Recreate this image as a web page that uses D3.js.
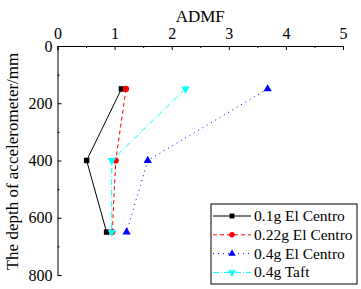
<!DOCTYPE html>
<html><head><meta charset="utf-8">
<script src="https://cdn.jsdelivr.net/npm/d3@7"></script>
<style>body{margin:0;background:#fff}svg text{font-family:"Liberation Serif","Times New Roman",serif !important}</style>
</head><body><svg id="c" width="361" height="289" font-family="Liberation Serif"></svg>
<script>
const depths = [150, 400, 650];
const seriesNames = ["0.1g El Centro", "0.22g El Centro", "0.4g El Centro", "0.4g Taft"];
const s1 = [1.12, 0.51, 0.86];
const s2 = [1.20, 1.02, 0.96];
const s3 = [3.68, 1.58, 1.21];
const s4 = [2.24, 0.95, 0.95];
const xTicks = [0, 1, 2, 3, 4, 5];
const yTicks = [0, 200, 400, 600, 800];

const svg = d3.select("#c");
const x = d3.scaleLinear().domain([0, 5]).range([57.5, 343]);
const y = d3.scaleLinear().domain([0, 800]).range([46, 275]);
const FF = "Liberation Serif";

const styles = [
  {data: s1, color: "#000", dash: null, sym: d3.symbolSquare, rot: 0, size: 30},
  {data: s2, color: "#f00", dash: "4,3", sym: d3.symbolCircle, rot: 0, size: 30},
  {data: s3, color: "#00f", dash: "1,4", sym: d3.symbolTriangle, rot: 0, size: 30},
  {data: s4, color: "#0ff", dash: "6,2,1,2", sym: d3.symbolTriangle, rot: 180, size: 30}
];

const xa = svg.append("g").attr("transform", `translate(0,${y(0)})`)
  .call(d3.axisTop(x).tickValues(xTicks).tickSize(-4).tickPadding(7).tickFormat(d3.format("d")));
const xm = svg.append("g").attr("transform", `translate(0,${y(0)})`)
  .call(d3.axisTop(x).tickValues(d3.range(0.5, 5, 1)).tickSize(-2).tickFormat(""));
const ya = svg.append("g").attr("transform", `translate(${x(0)},0)`)
  .call(d3.axisLeft(y).tickValues(yTicks).tickSize(-4).tickPadding(7));
const ym = svg.append("g").attr("transform", `translate(${x(0)},0)`)
  .call(d3.axisLeft(y).tickValues(d3.range(100, 800, 200)).tickSize(-2).tickFormat(""));
[xa, xm, ya, ym].forEach(g => {
  g.attr("font-family", FF);
  g.selectAll("path").attr("stroke", "#000").attr("stroke-width", 1);
  g.selectAll("line").attr("stroke", "#000");
  g.selectAll("text").attr("font-size", 16).attr("fill", "#000").attr("font-family", FF);
});
xm.select("path").remove(); ym.select("path").remove();
ya.selectAll(".tick text").attr("x", -5);
xa.selectAll(".tick text").attr("y", -7);

svg.append("text").attr("x", x(2.5)).attr("y", 22).attr("text-anchor", "middle")
  .attr("font-family", FF).attr("font-size", 17).text("ADMF");
svg.append("text").attr("transform", `translate(18,${y(400) + 1}) rotate(-90)`)
  .attr("text-anchor", "middle").attr("font-family", FF).attr("font-size", 17)
  .text("The depth of accelerometer/mm");

const line = d3.line().x(d => x(d[0])).y(d => y(d[1]));
styles.forEach(s => {
  const pts = s.data.map((v, i) => [v, depths[i]]);
  svg.append("path").attr("d", line(pts)).attr("fill", "none")
    .attr("stroke", s.color).attr("stroke-width", 1)
    .attr("stroke-dasharray", s.dash);
  svg.selectAll(null).data(pts).enter().append("path")
    .attr("d", d3.symbol(s.sym, s.size)())
    .attr("transform", d => `translate(${x(d[0])},${y(d[1])}) rotate(${s.rot})`)
    .attr("fill", s.color);
});

const lg = svg.append("g");
lg.append("rect").attr("x", 211).attr("y", 204).attr("width", 146).attr("height", 80)
  .attr("fill", "#fff").attr("stroke", "#000").attr("stroke-width", 1);
styles.forEach((s, i) => {
  const ly = 216 + i * 18.8;
  lg.append("line").attr("x1", 213).attr("x2", 251).attr("y1", ly).attr("y2", ly)
    .attr("stroke", s.color).attr("stroke-dasharray", s.dash);
  lg.append("path").attr("d", d3.symbol(s.sym, 24)())
    .attr("transform", `translate(232,${ly}) rotate(${s.rot})`).attr("fill", s.color);
  lg.append("text").attr("x", 254).attr("y", ly + 5).attr("font-family", FF)
    .attr("font-size", 15.5).text(seriesNames[i]);
});
</script></body></html>
